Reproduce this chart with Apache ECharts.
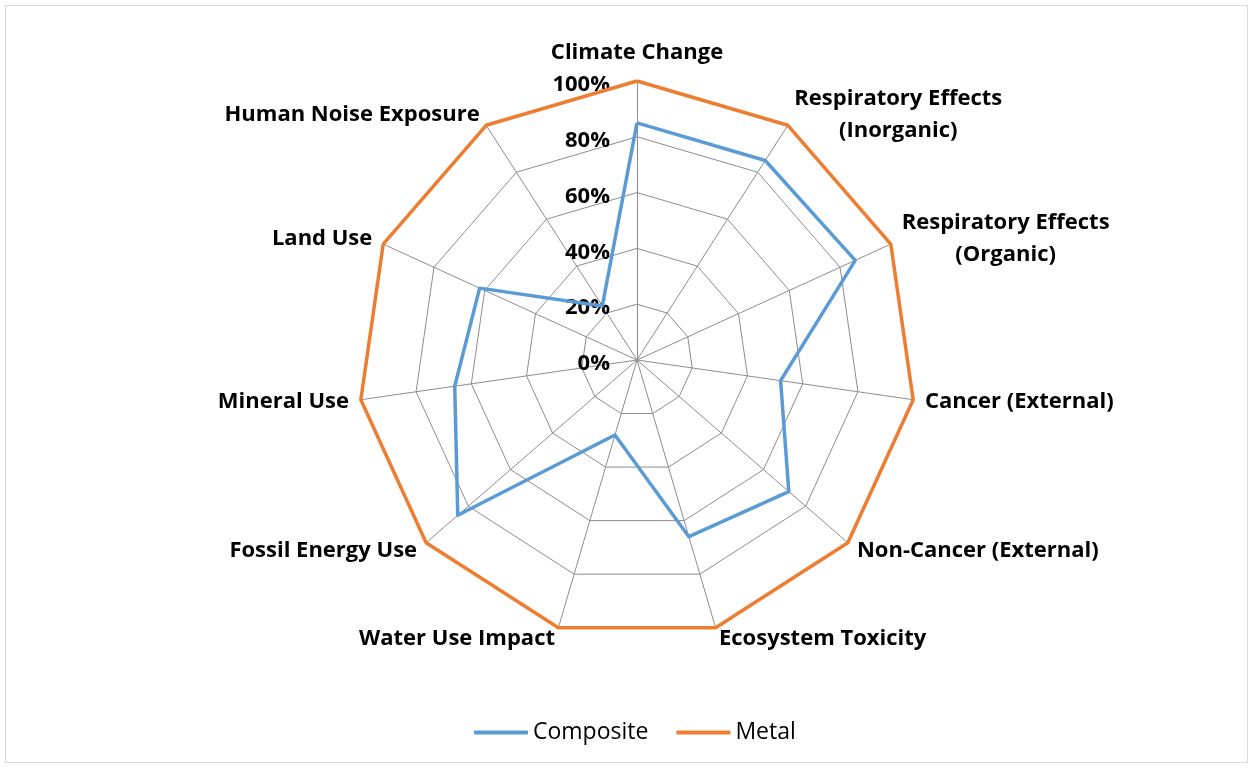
<!DOCTYPE html>
<html>
<head>
<meta charset="utf-8">
<script src="https://cdn.jsdelivr.net/npm/echarts@6/dist/echarts.min.js"></script>
<style>
  html, body { margin: 0; padding: 0; background: #fff; }
  #chart { width: 1253px; height: 768px; }
  .frame { position: absolute; left: 5px; top: 5px; width: 1241px; height: 756px; border: 1px solid #d9d9d9; pointer-events: none; }
</style>
</head>
<body>
<div id="chart"></div>
<div class="frame"></div>
<script>
// 指标名称（顺时针，从顶部开始）
const indicatorNames = [
  'Climate Change',
  'Respiratory Effects\n(Inorganic)',
  'Respiratory Effects\n(Organic)',
  'Cancer (External)',
  'Non-Cancer (External)',
  'Ecosystem Toxicity',
  'Water Use Impact',
  'Fossil Energy Use',
  'Mineral Use',
  'Land Use',
  'Human Noise Exposure'
]
const seriesNames = ['Composite', 'Metal']
const compositeValues = [85, 85, 86, 52, 72, 66, 28, 85, 66, 62, 23]
const metalValues = [100, 100, 100, 100, 100, 100, 100, 100, 100, 100, 100]
const axisMax = 100
const axisSplits = 5

const labelFont = 'Open Sans'
const gridColor = '#8c8c8c'

// ECharts 雷达图按逆时针排列指标，这里换成顺时针顺序
const order = indicatorNames.map((_, i) => (i === 0 ? 0 : indicatorNames.length - i))
const reorder = arr => order.map(i => arr[i])

const chart = echarts.init(document.getElementById('chart'))

const indicators = reorder(indicatorNames).map((name, i) => {
  const ind = { name: name, max: axisMax, min: 0 }
  if (i === 0) {
    // 只在竖直轴上显示刻度标签
    ind.axisLabel = {
      show: true,
      formatter: '{t|{value}%}',
      margin: 27,
      rich: {
        t: {
          color: '#000',
          fontSize: 22,
          fontWeight: 'bold',
          fontFamily: labelFont,
          padding: [8, 0, 0, 0]
        }
      }
    }
  }
  return ind
})

const option = {
  animation: false,
  legend: {
    bottom: 19,
    left: 469,
    data: seriesNames,
    icon: 'roundRect',
    itemWidth: 54,
    itemHeight: 4,
    itemGap: 28,
    textStyle: { fontFamily: labelFont, fontSize: 23, color: '#000' }
  },
  radar: {
    center: [637, 360],
    radius: 279,
    shape: 'polygon',
    splitNumber: axisSplits,
    startAngle: 90,
    axisNameGap: 12,
    axisName: {
      color: '#000',
      fontSize: 22,
      fontWeight: 'bold',
      fontFamily: labelFont,
      formatter: (value) => value.split('\n').map(s => '{c|' + s + '}').join('\n'),
      rich: {
        c: {
          align: 'center',
          color: '#000',
          fontSize: 22,
          fontWeight: 'bold',
          fontFamily: labelFont,
          lineHeight: 32
        }
      }
    },
    indicator: indicators,
    axisLine: { lineStyle: { color: gridColor, width: 1 } },
    splitLine: { lineStyle: { color: gridColor, width: 1 } },
    splitArea: { show: false },
    axisTick: { show: false }
  },
  series: [
    {
      type: 'radar',
      symbol: 'none',
      data: [
        {
          name: seriesNames[0],
          value: reorder(compositeValues),
          lineStyle: { color: '#5b9bd5', width: 3.5 },
          itemStyle: { color: '#5b9bd5' }
        },
        {
          name: seriesNames[1],
          value: reorder(metalValues),
          lineStyle: { color: '#ed7d31', width: 3.5 },
          itemStyle: { color: '#ed7d31' }
        }
      ]
    }
  ]
}

chart.setOption(option)
</script>
</body>
</html>
